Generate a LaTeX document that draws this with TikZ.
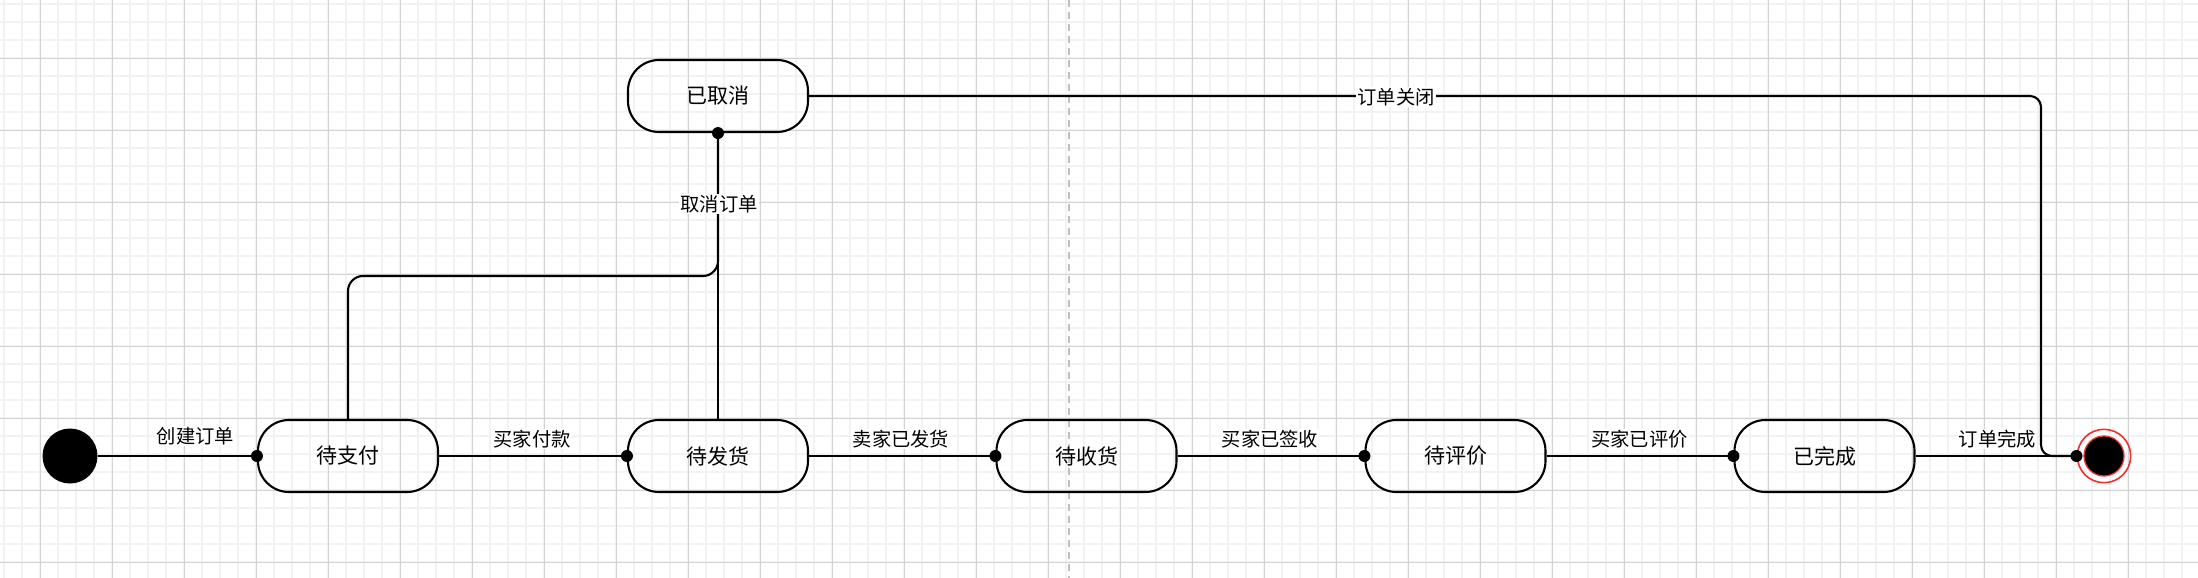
\documentclass[tikz,border=0pt]{standalone}
\usepackage{fontspec}
\newfontfamily\cjk{Noto Sans CJK SC}
\usetikzlibrary{calc}
\definecolor{minorgrid}{HTML}{F2F2F2}
\definecolor{majorgrid}{HTML}{D2D2D2}
\definecolor{pagebreak}{HTML}{C0C0C0}
\definecolor{endred}{HTML}{F03030}
\tikzset{
  statebox/.style={draw=black, line width=2.1pt, rounded corners=31pt, minimum width=180pt, minimum height=72pt, inner sep=0pt, font=\cjk\fontsize{21}{21}\selectfont},
  conn/.style={draw=black, line width=2.1pt},
  elabel/.style={fill=white, inner sep=1pt, font=\cjk\fontsize{19.3}{19.3}\selectfont},
  enddot/.style={fill=black},
}
\begin{document}
\begin{tikzpicture}[x=1pt,y=-1pt]
\useasboundingbox (0,0) rectangle (2198,578);
\fill[white] (0,0) rectangle (2198,578);
% grid
\foreach \x in {4.3,22.3,...,2198} \draw[minorgrid, line width=1.8pt] (\x,0) -- (\x,578);
\foreach \y in {4.3,22.3,...,578} \draw[minorgrid, line width=1.8pt] (0,\y) -- (2198,\y);
\foreach \x in {40.3,112.3,...,2198} \draw[majorgrid, line width=1.3pt] (\x,0) -- (\x,578);
\foreach \y in {58.3,130.3,...,578} \draw[majorgrid, line width=1.3pt] (0,\y) -- (2198,\y);
\draw[pagebreak, line width=1.6pt, dash pattern=on 7pt off 5pt] (1069,0) -- (1069,578);

% nodes
\node[circle, fill=black, minimum size=55pt, inner sep=0pt] (start) at (70,456) {};
\node[statebox] (s1) at (348,456) {待支付};
\node[statebox] (s2) at (718,456) {待发货};
\node[statebox] (s3) at (1086.5,456) {待收货};
\node[statebox] (s4) at (1455.5,456) {待评价};
\node[statebox] (s5) at (1824.5,456) {已完成};
\node[statebox] (cancel) at (718,96) {已取消};
\node[circle, draw=endred, line width=1.6pt, minimum size=53.4pt, inner sep=0pt] (end) at (2104,456) {};
\node[circle, draw=endred, fill=black, line width=1.2pt, minimum size=40pt, inner sep=0pt] (endin) at (2104,456) {};

\coordinate (bend) at (718,276);
\coordinate (c1) at (2041,456);

% connectors
\draw[conn] (start.east) -- (s1.west);
\draw[conn] (s1.east) -- (s2.west);
\draw[conn] (s2.east) -- (s3.west);
\draw[conn] (s3.east) -- (s4.west);
\draw[conn] (s4.east) -- (s5.west);
\draw[conn] (s5.east) -- (end.west);
\draw[conn, rounded corners=15pt] (s1.north) |- (bend) -- (cancel.south);
\draw[conn] (s2.north) -- (cancel.south);
\draw[conn, rounded corners=11pt] (cancel.east) -| (c1) -- (end.west);

% end dots
\foreach \n in {s1.west,s2.west,s3.west,s4.west,s5.west,end.west,cancel.south}
  \fill[enddot] (\n) circle (6pt);

% labels
\node[elabel] (l1) at (195.5,436) {创建订单};
\node[elabel] (l2) at (532,439) {买家付款};
\node[elabel] (l3) at (901,439) {卖家已发货};
\node[elabel] (l4) at (1270,439) {买家已签收};
\node[elabel] (l5) at (1639.5,439) {买家已评价};
\node[elabel] (l6) at (1997.5,439) {订单完成};
\node[elabel] (l7) at (719,204) {取消订单};
\node[elabel] (l8) at (1396,97) {订单关闭};
\end{tikzpicture}
\end{document}
